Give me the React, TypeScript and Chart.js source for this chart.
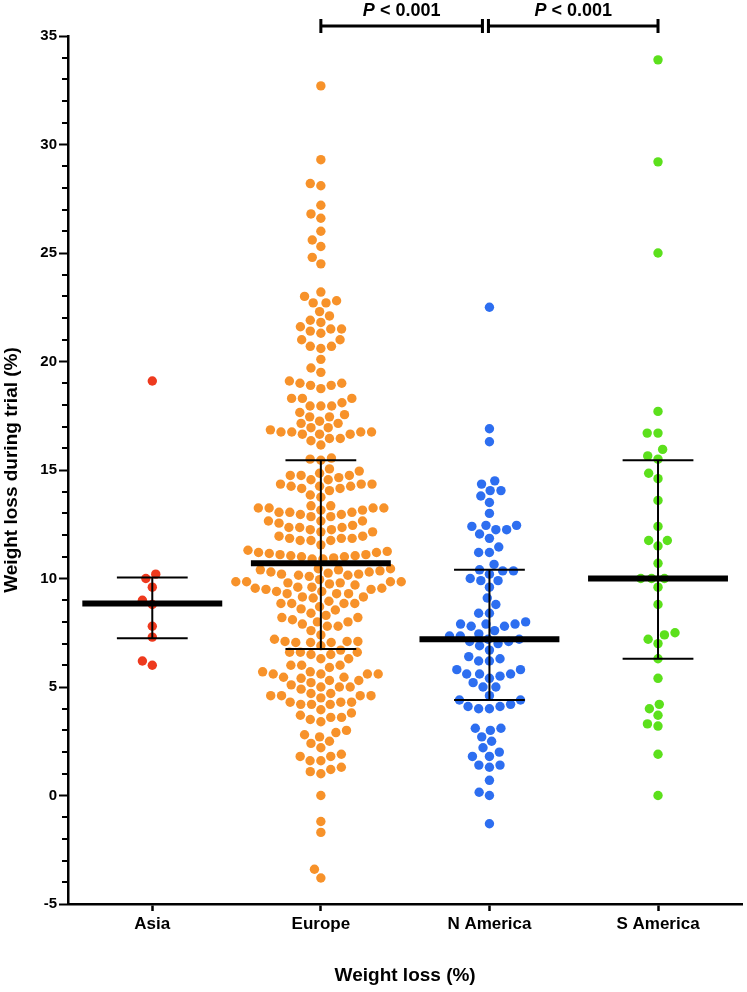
import React, { useEffect, useRef } from 'react';
import { Chart, registerables } from 'chart.js';
Chart.register(...registerables);

const FONT = "'Liberation Sans', Arial, Helvetica, sans-serif";

const categories = ['Asia', 'Europe', 'N America', 'S America'];
const colors = ['#EE3A1E', '#F7922A', '#2D6EF0', '#5CE01C'];

const asia = [19.1, 10.2, 10.0, 9.6, 9.0, 8.8, 7.8, 7.3, 6.2, 6.0];

const europe = [
  32.7, 29.3, 28.2, 28.1, 27.2, 26.8, 26.6, 26.0, 25.6, 25.3, 24.8, 24.5,
  23.2, 23.0, 22.8, 22.7, 22.7, 22.3, 22.1,
  21.9, 21.8, 21.6, 21.5, 21.5, 21.4, 21.3,
  21.0, 21.0, 20.7, 20.7, 20.6, 20.1,
  19.7, 19.5,
  19.1, 19.0, 19.0, 18.9, 18.9, 18.75,
  18.3, 18.3, 18.3, 18.1, 17.95, 17.95, 17.95,
  17.65, 17.55, 17.45, 17.45, 17.25, 17.15, 17.15,
  16.95, 16.95, 16.85, 16.75, 16.75, 16.75, 16.75, 16.65, 16.65, 16.65,
  16.45, 16.45, 16.35, 16.15,
  15.55, 15.5, 15.45,
  15.05, 14.95, 14.85, 14.75, 14.75, 14.75, 14.65, 14.55, 14.55,
  14.35, 14.35, 14.35, 14.25, 14.25, 14.25, 14.15, 14.15, 14.05, 13.85, 13.75,
  13.35, 13.35, 13.25, 13.25, 13.25, 13.25, 13.15, 13.15, 13.05, 13.05, 13.05, 12.95, 12.95, 12.85,
  12.85, 12.65, 12.65, 12.65, 12.55, 12.45, 12.35, 12.35, 12.35, 12.25, 12.25,
  12.15, 12.15, 11.95, 11.95, 11.85, 11.85, 11.85, 11.75, 11.75, 11.75, 11.55,
  11.3, 11.25, 11.2, 11.2, 11.15, 11.1, 11.1, 11.05, 11.05, 11.0, 11.0, 10.95, 10.9, 10.9,
  10.45, 10.45, 10.4, 10.4, 10.35, 10.3, 10.3, 10.25, 10.2, 10.2, 10.15, 10.15, 10.1,
  9.95, 9.85, 9.85, 9.85, 9.85, 9.8, 9.8, 9.75, 9.7, 9.6, 9.6, 9.55, 9.55, 9.5, 9.5, 9.4, 9.4, 9.3, 9.3, 9.3,
  9.15, 9.15, 9.1, 8.95, 8.85, 8.85, 8.85, 8.85, 8.7, 8.6, 8.55,
  8.4, 8.3, 8.2, 8.2, 8.1, 8.0, 8.0, 7.9, 7.8, 7.8,
  7.6, 7.4, 7.2, 7.1, 7.1, 7.1, 7.05, 7.05, 7.05,
  6.9, 6.7, 6.6, 6.6, 6.6, 6.5, 6.5, 6.3, 6.3,
  6.0, 6.0, 6.0, 5.9, 5.7, 5.7, 5.6, 5.6, 5.6, 5.6,
  5.45, 5.45, 5.4, 5.3, 5.3, 5.2, 5.1, 5.0, 5.0, 5.0, 4.9,
  4.7, 4.7, 4.6, 4.6, 4.6, 4.6, 4.5, 4.3, 4.3, 4.3, 4.2, 4.2, 4.2,
  3.95, 3.8, 3.7, 3.6, 3.6, 3.5, 3.4,
  3.0, 2.9, 2.8, 2.7, 2.5,
  2.4, 2.2, 1.9, 1.8, 1.8, 1.6, 1.6,
  1.3, 1.2, 1.1, 1.0,
  0.0, -1.2, -1.7, -3.4, -3.8,
];

const nAmerica = [
  22.5, 16.9, 16.3, 14.5, 14.35, 14.05, 14.05, 13.8, 13.5, 13.0,
  12.45, 12.45, 12.4, 12.25, 12.25, 12.05, 11.85, 11.45, 11.2, 11.2,
  10.65, 10.4, 10.35, 10.35, 10.2, 10.0, 9.9, 9.9, 9.6, 9.1, 8.8, 8.4, 8.4,
  8.0, 7.9, 7.9, 7.9, 7.8, 7.8, 7.6, 7.45, 7.35, 7.35, 7.2, 7.2, 7.1, 7.1, 7.0, 6.9,
  6.7, 6.4, 6.3, 6.2, 6.2, 5.8, 5.8, 5.6, 5.6, 5.6, 5.5, 5.4, 5.2, 5.0, 5.0,
  4.6, 4.4, 4.4, 4.2, 4.1, 4.1, 4.0, 4.0, 3.1, 3.1, 3.0, 2.7, 2.5, 2.2, 2.0,
  1.8, 1.8, 1.4, 1.4, 1.3, 0.7, 0.15, 0.0, -1.3,
];

const sAmerica = [
  33.9, 29.2, 25.0, 17.7, 16.7, 16.7, 15.95, 15.65, 15.5, 14.85, 14.6, 13.6,
  12.4, 11.75, 11.75, 11.5, 10.7, 10.0, 10.0, 10.0, 9.6, 8.8, 7.5, 7.4, 7.2, 7.0,
  6.3, 5.4, 4.2, 4.0, 3.7, 3.3, 3.2, 1.9, 0.0,
];

const medians = [8.85, 10.7, 7.2, 10.0];
const q1 = [7.25, 6.75, 4.4, 6.3];
const q3 = [10.05, 15.45, 10.4, 15.45];

const yMin = -5;
const yMax = 35;
const yStep = 5;

const comparisons: [number, number, string][] = [
  [2, 3, '< 0.001'],
  [3, 4, '< 0.001'],
];

function swarm(values: number[], yPix: (v: number) => number, d: number): number[] {
  const idx = values.map((_, i) => i).sort((a, b) => values[a] - values[b]);
  const placed: { x: number; y: number }[] = [];
  const out = new Array(values.length).fill(0);
  for (const i of idx) {
    const y = yPix(values[i]);
    const intervals: [number, number][] = [];
    for (const p of placed) {
      const dy = Math.abs(p.y - y);
      if (dy < d) {
        const dx = Math.sqrt(d * d - dy * dy);
        intervals.push([p.x - dx, p.x + dx]);
      }
    }
    const cands = [0];
    for (const [a, b] of intervals) cands.push(a, b);
    cands.sort((a, b) => Math.abs(a) - Math.abs(b) || a - b);
    let best = 0;
    for (const c of cands) {
      if (intervals.every(([a, b]) => c <= a + 1e-6 || c >= b - 1e-6)) {
        best = c;
        break;
      }
    }
    placed.push({ x: best, y });
    out[i] = best;
  }
  return out;
}

const annotPlugin = {
  id: 'annot',
  afterDraw(chart: any) {
    const { ctx, chartArea, scales } = chart;
    const x = scales.x;
    const y = scales.y;
    ctx.save();
    ctx.strokeStyle = '#000';
    ctx.lineWidth = 2;
    for (let v = yMin; v <= yMax; v++) {
      if (v % yStep === 0) continue;
      const py = Math.round(y.getPixelForValue(v));
      ctx.beginPath();
      ctx.moveTo(chartArea.left - 6, py);
      ctx.lineTo(chartArea.left, py);
      ctx.stroke();
    }
    const by = chartArea.top - 10;
    ctx.lineWidth = 3;
    comparisons.forEach(([a, b, txt], k) => {
      let x1 = x.getPixelForValue(a);
      let x2 = x.getPixelForValue(b);
      if (k === 0) x2 -= 7;
      else x1 -= 1;
      ctx.beginPath();
      ctx.moveTo(x1, by);
      ctx.lineTo(x2, by);
      ctx.moveTo(x1, by - 7);
      ctx.lineTo(x1, by + 7);
      ctx.moveTo(x2, by - 7);
      ctx.lineTo(x2, by + 7);
      ctx.stroke();
      const cx = (x1 + x2) / 2;
      const fi = `italic bold 18px ${FONT}`;
      const fb = `bold 18px ${FONT}`;
      ctx.font = fi;
      const wP = ctx.measureText('P').width;
      ctx.font = fb;
      const rest = ' ' + txt;
      const wR = ctx.measureText(rest).width;
      const start = cx - (wP + wR) / 2;
      ctx.fillStyle = '#000';
      ctx.textBaseline = 'middle';
      ctx.textAlign = 'left';
      ctx.font = fi;
      ctx.fillText('P', start, chartArea.top - 25);
      ctx.font = fb;
      ctx.fillText(rest, start + wP, chartArea.top - 25);
    });
    ctx.restore();
  },
};

export default function App() {
  const ref = useRef<HTMLCanvasElement>(null);
  useEffect(() => {
    const canvas = ref.current!;
    const groups = [asia, europe, nAmerica, sAmerica];
    const datasets: any[] = groups.map((vals, gi) => ({
      type: 'scatter',
      label: categories[gi],
      data: vals.map((v) => ({ x: gi + 1, y: v })),
      backgroundColor: colors[gi],
      borderWidth: 0,
      pointRadius: 4.7,
      pointHoverRadius: 4.7,
      order: 1,
    }));
    const seg = (pts: { x: number; y: number }[], w: number) => ({
      type: 'line',
      data: pts,
      borderColor: '#000',
      borderWidth: w,
      borderCapStyle: 'butt',
      pointRadius: 0,
      showLine: true,
      fill: false,
      order: 0,
    });
    categories.forEach((_, i) => {
      const cx = i + 1;
      datasets.push(seg([{ x: cx - 0.415, y: medians[i] }, { x: cx + 0.415, y: medians[i] }], 6));
      datasets.push(seg([{ x: cx, y: q1[i] }, { x: cx, y: q3[i] }], 2));
      datasets.push(seg([{ x: cx - 0.21, y: q1[i] }, { x: cx + 0.21, y: q1[i] }], 2));
      datasets.push(seg([{ x: cx - 0.21, y: q3[i] }, { x: cx + 0.21, y: q3[i] }], 2));
    });

    const chart = new Chart(canvas, {
      type: 'scatter',
      data: { datasets },
      plugins: [annotPlugin],
      options: {
        responsive: false,
        animation: false,
        devicePixelRatio: 1,
        events: [],
        color: '#000',
        layout: { padding: { top: 36, left: 0, right: 0, bottom: 0 } },
        plugins: { legend: { display: false }, tooltip: { enabled: false } },
        scales: {
          x: {
            type: 'linear',
            min: 0.5,
            max: 4.5,
            afterBuildTicks: (s: any) => {
              s.ticks = categories.map((_, i) => ({ value: i + 1 }));
            },
            afterFit: (s: any) => {
              s.height = 88;
            },
            ticks: {
              callback: (v: any) => categories[Math.round(Number(v)) - 1] ?? '',
              color: '#000',
              font: { family: FONT, size: 17, weight: 'bold' },
              padding: 3,
              maxRotation: 0,
              autoSkip: false,
            },
            grid: { display: true, drawOnChartArea: false, drawTicks: true, tickLength: 7, tickWidth: 2.5, tickColor: '#000' },
            border: { display: true, color: '#000', width: 2.5 },
            title: {
              display: true,
              text: 'Weight loss (%)',
              color: '#000',
              font: { family: FONT, size: 19, weight: 'bold' },
              padding: { top: 0, bottom: 5 },
            },
          },
          y: {
            type: 'linear',
            min: yMin,
            max: yMax,
            afterFit: (s: any) => {
              s.width = 68;
            },
            ticks: {
              stepSize: yStep,
              color: '#000',
              font: { family: FONT, size: 15, weight: 'bold' },
              padding: 2,
            },
            grid: { display: true, drawOnChartArea: false, drawTicks: true, tickLength: 9, tickWidth: 2, tickColor: '#000' },
            border: { display: true, color: '#000', width: 2.5 },
            title: {
              display: true,
              text: 'Weight loss during trial (%)',
              color: '#000',
              font: { family: FONT, size: 19, weight: 'bold' },
              padding: { top: 0, bottom: 0 },
            },
          },
        },
      } as any,
    } as any);

    const ys = chart.scales.y;
    const xs = chart.scales.x;
    const pxPerX = xs.getPixelForValue(2) - xs.getPixelForValue(1);
    groups.forEach((vals, gi) => {
      const offs = swarm(vals, (v) => ys.getPixelForValue(v), 10.8);
      (chart.data.datasets[gi] as any).data = vals.map((v, k) => ({ x: gi + 1 + offs[k] / pxPerX, y: v }));
    });
    chart.update('none');
    return () => chart.destroy();
  }, []);

  return (
    <div style={{ position: 'fixed', left: 0, top: 0, width: 747, height: 992, background: '#fff' }}>
      <canvas ref={ref} width={747} height={992} style={{ display: 'block', width: 747, height: 992 }} />
    </div>
  );
}
